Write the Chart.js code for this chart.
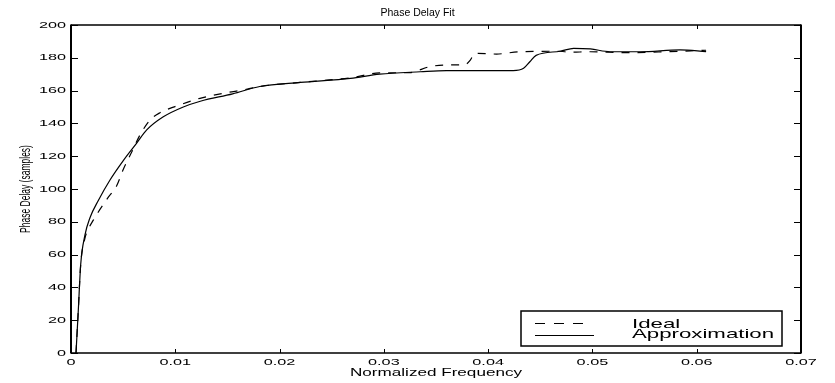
<!DOCTYPE html>
<html>
<head>
<meta charset="utf-8">
<script src="https://cdn.jsdelivr.net/npm/chart.js@4.4.1/dist/chart.umd.min.js"></script>
<style>
  html, body { margin: 0; padding: 0; background: #fff; }
  canvas { display: block; }
</style>
</head>
<body>
<canvas id="c" width="835" height="383"></canvas>
<script>
// ---- data ----
const chartTitle = 'Phase Delay Fit';
const xAxisTitle = 'Normalized Frequency';
const yAxisTitle = 'Phase Delay (samples)';
const seriesNames = ['Ideal', 'Approximation'];

const xTickLabels = ['0', '0.01', '0.02', '0.03', '0.04', '0.05', '0.06', '0.07'];
const yTickLabels = ['0', '20', '40', '60', '80', '100', '120', '140', '160', '180', '200'];

const idealFreq = [0.00048, 0.0007, 0.00093, 0.00134, 0.0017, 0.00214, 0.00262, 0.00358, 0.00438, 0.00502,
  0.00582, 0.00662, 0.00757, 0.00853, 0.01013, 0.01237, 0.0149, 0.0165, 0.0181, 0.022,
  0.0268, 0.0296, 0.0325, 0.0344, 0.036, 0.0378, 0.0383, 0.0387, 0.0408, 0.043,
  0.0469, 0.0478, 0.0498, 0.0533, 0.0571, 0.0609];
const idealDelay = [0, 26, 54, 70, 76, 81, 86, 95, 102, 112,
  122.5, 133, 142, 146.5, 150.6, 155.3, 158.7, 160.4, 162.5, 165,
  167.8, 170.8, 171, 174.6, 175.6, 176, 178.7, 182.7, 182.3, 183.7,
  184, 183.4, 183.7, 183.1, 183.7, 184.6];

const approxFreq = [0.00048, 0.0007, 0.00093, 0.00134, 0.00182, 0.00262, 0.00374, 0.00503, 0.0063, 0.00726,
  0.00885, 0.01077, 0.0124, 0.0155, 0.0181, 0.022, 0.0268, 0.0296, 0.0335, 0.036,
  0.0424, 0.0434, 0.044, 0.0446, 0.0469, 0.0482, 0.0498, 0.0517, 0.0546, 0.0584, 0.0609];
const approxDelay = [0, 26, 54, 72, 82.5, 93, 105.5, 117.5, 128, 136,
  144, 150, 153.5, 158, 162.5, 165, 167.5, 170, 171.5, 172.2,
  172.2, 173.6, 177.6, 181.5, 184, 185.8, 185.4, 183.7, 183.7, 184.8, 183.8];

// ---- helpers ----
const toPoints = (xs, ys) => xs.map((x, i) => ({ x: x, y: ys[i] }));
const FONT = "'Liberation Sans', Arial, Helvetica, sans-serif";
const STRETCH = 1.71; // reference text is horizontally wide

const canvas = document.getElementById('c');
const ctx = canvas.getContext('2d');
const origFill = ctx.fillText.bind(ctx);
ctx.fillText = function (text, x, y, maxWidth) {
  const t = this.getTransform();
  const rotated = (t.b !== 0 || t.c !== 0);
  if (!rotated && text === chartTitle) {
    return maxWidth === undefined ? origFill(text, x, y) : origFill(text, x, y, maxWidth);
  }
  this.save();
  this.translate(x, y);
  if (rotated) this.scale(1, STRETCH); else this.scale(STRETCH, 1);
  const mw = maxWidth === undefined ? undefined : (rotated ? maxWidth : maxWidth / STRETCH);
  if (mw === undefined) origFill(text, 0, 0); else origFill(text, 0, 0, mw);
  this.restore();
};

// frame with inward ticks on all sides
const framePlugin = {
  id: 'frame',
  afterDatasetsDraw(chart) {
    const { ctx, chartArea: a, scales: { x, y } } = chart;
    ctx.save();
    ctx.strokeStyle = '#000';
    ctx.lineWidth = 1.3;
    ctx.beginPath();
    ctx.moveTo(a.left, a.top); ctx.lineTo(a.right, a.top);
    ctx.moveTo(a.left, a.bottom); ctx.lineTo(a.right, a.bottom);
    ctx.stroke();
    ctx.lineWidth = 2;
    ctx.beginPath();
    ctx.moveTo(a.left, a.top - 0.6); ctx.lineTo(a.left, a.bottom + 0.6);
    ctx.moveTo(a.right, a.top - 0.6); ctx.lineTo(a.right, a.bottom + 0.6);
    ctx.stroke();
    ctx.lineWidth = 1;
    ctx.beginPath();
    x.ticks.forEach(t => {
      const px = Math.round(x.getPixelForValue(t.value)) + 0.5;
      ctx.moveTo(px, a.bottom); ctx.lineTo(px, a.bottom - 4);
      ctx.moveTo(px, a.top); ctx.lineTo(px, a.top + 4);
    });
    y.ticks.forEach(t => {
      const py = Math.round(y.getPixelForValue(t.value)) + 0.5;
      ctx.moveTo(a.left, py); ctx.lineTo(a.left + 7, py);
      ctx.moveTo(a.right, py); ctx.lineTo(a.right - 7, py);
    });
    ctx.stroke();
    ctx.restore();
  }
};

// legend box inside the lower-right corner
const legendPlugin = {
  id: 'boxLegend',
  afterDraw(chart) {
    const { ctx, chartArea: a } = chart;
    const w = 261, h = 35;
    const bx = a.right - 19 - w, by = a.bottom - 7 - h;
    ctx.save();
    ctx.fillStyle = '#fff';
    ctx.fillRect(bx, by, w, h);
    ctx.strokeStyle = '#000';
    ctx.lineWidth = 1.5;
    ctx.strokeRect(bx, by, w, h);
    const ds = chart.data.datasets;
    const rows = [by + 12.5, by + 24.5];
    ctx.lineWidth = 1.1;
    ds.forEach((d, i) => {
      ctx.setLineDash(d.borderDash ? [10, 9] : []);
      ctx.beginPath();
      ctx.moveTo(bx + 14, rows[i]);
      ctx.lineTo(bx + (d.borderDash ? 66 : 73), rows[i]);
      ctx.stroke();
    });
    ctx.setLineDash([]);
    ctx.fillStyle = '#000';
    ctx.font = '13px ' + FONT;
    ctx.textAlign = 'left';
    ctx.textBaseline = 'middle';
    ds.forEach((d, i) => {
      ctx.fillText(d.label, bx + 111, rows[i] + (i === 0 ? 0.5 : -1));
    });
    ctx.restore();
  }
};

new Chart(ctx, {
  type: 'line',
  data: {
    datasets: [
      {
        label: seriesNames[0],
        data: toPoints(idealFreq, idealDelay),
        borderColor: '#000',
        borderWidth: 1.2,
        borderDash: [8, 8],
        pointRadius: 0,
        fill: false,
        cubicInterpolationMode: 'monotone'
      },
      {
        label: seriesNames[1],
        data: toPoints(approxFreq, approxDelay),
        borderColor: '#000',
        borderWidth: 1.2,
        pointRadius: 0,
        fill: false,
        cubicInterpolationMode: 'monotone'
      }
    ]
  },
  options: {
    responsive: false,
    animation: false,
    devicePixelRatio: 1,
    layout: { padding: 0 },
    plugins: {
      legend: { display: false },
      tooltip: { enabled: false },
      title: {
        display: true,
        text: chartTitle,
        color: '#000',
        font: { family: FONT, size: 10.5, weight: 'normal', lineHeight: 1.2 },
        padding: { top: 6.7, bottom: 5.7 }
      }
    },
    scales: {
      x: {
        type: 'linear',
        min: 0,
        max: 0.07,
        afterFit(scale) { scale.height = 30; },
        grid: { display: false, drawTicks: false, tickLength: 0 },
        border: { display: false },
        ticks: {
          stepSize: 0.01,
          color: '#000',
          padding: 3.5,
          maxRotation: 0,
          autoSkip: false,
          font: { family: FONT, size: 9.5 },
          callback: (v, i) => xTickLabels[i]
        },
        title: {
          display: true,
          text: xAxisTitle,
          color: '#000',
          font: { family: FONT, size: 10, lineHeight: 1.2 },
          padding: { top: 0, bottom: 3.5 }
        }
      },
      y: {
        type: 'linear',
        min: 0,
        max: 200,
        afterFit(scale) { scale.width = 71; },
        grid: { display: false, drawTicks: false, tickLength: 0 },
        border: { display: false },
        ticks: {
          stepSize: 20,
          color: '#000',
          padding: 5,
          autoSkip: false,
          font: { family: FONT, size: 9.5 },
          callback: (v, i) => yTickLabels[i]
        },
        title: {
          display: true,
          text: yAxisTitle,
          color: '#000',
          font: { family: FONT, size: 8.5, lineHeight: 1.2 },
          padding: { top: 21, bottom: 0 }
        }
      },
      yRight: {
        type: 'linear',
        position: 'right',
        min: 0,
        max: 200,
        afterFit(scale) { scale.width = 34; },
        grid: { display: false, drawTicks: false },
        border: { display: false },
        ticks: { display: false }
      }
    }
  },
  plugins: [framePlugin, legendPlugin]
});
</script>
</body>
</html>
